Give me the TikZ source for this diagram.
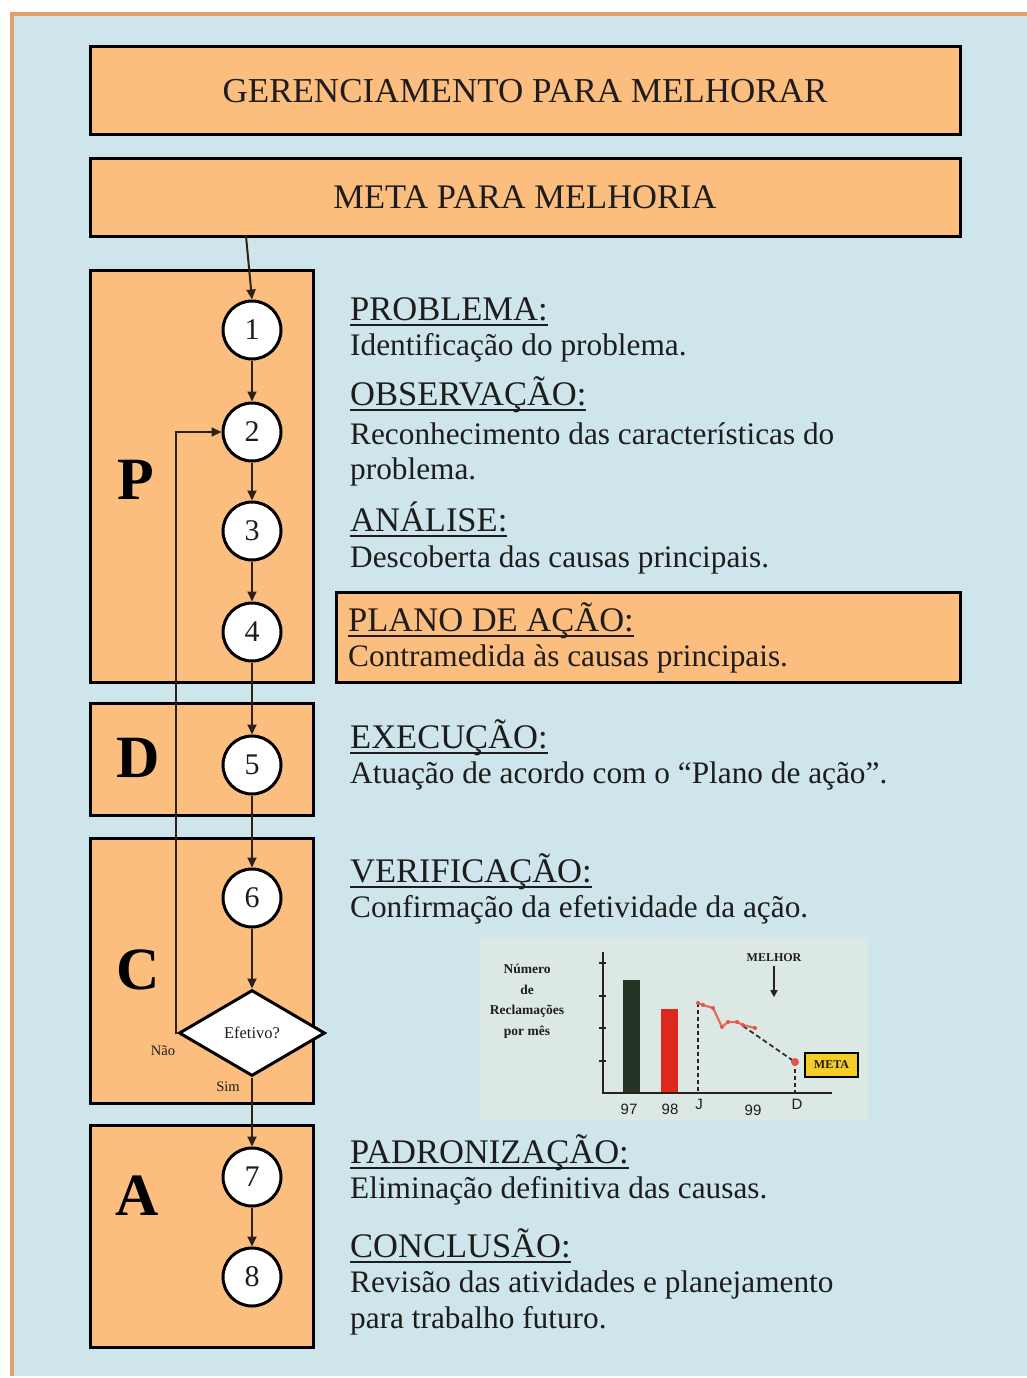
\documentclass[tikz,border=0pt]{standalone}
\usepackage{fontspec}
\setmainfont{Liberation Serif}
\newfontfamily\chartsans{Liberation Sans}
\usetikzlibrary{arrows.meta,shapes.geometric}
\definecolor{bgblue}{RGB}{205,229,235}
\definecolor{orfill}{RGB}{252,190,126}
\definecolor{frameor}{RGB}{224,160,112}
\definecolor{txt}{RGB}{30,28,28}
\definecolor{conn}{RGB}{45,32,25}
\definecolor{chartbg}{RGB}{220,232,228}
\definecolor{bargreen}{RGB}{38,52,38}
\definecolor{barred}{RGB}{222,40,30}
\definecolor{metay}{RGB}{245,205,40}
\newcommand\myul[1]{\setbox0\hbox{#1}\rlap{\rule[-6pt]{\wd0}{1.8pt}}\box0}
\begin{document}
\begin{tikzpicture}[x=1pt,y=-1pt,
  box/.style={draw=black, fill=orfill, line width=3pt, inner sep=0pt},
  stepc/.style={circle, draw=black, fill=white, line width=3pt, minimum size=58pt, inner sep=0pt, font=\fontsize{30}{30}\selectfont, text=txt},
  phase/.style={font=\bfseries\fontsize{60}{60}\selectfont, text=black},
  head/.style={anchor=base west, inner sep=0pt, font=\fontsize{34.5}{34.5}\selectfont, text=txt},
  body/.style={anchor=base west, inner sep=0pt, font=\fontsize{31.3}{31.3}\selectfont, text=txt},
  arr/.style={draw=conn, line width=2pt, -{Triangle[length=10pt,width=9pt]}},
  small/.style={inner sep=0pt, text=txt, font=\fontsize{14.5}{14.5}\selectfont},
  clab/.style={inner sep=0pt, text=txt, font=\chartsans\fontsize{15}{15}\selectfont}]
\useasboundingbox (0,0) rectangle (1027,1378);
\fill[white] (0,0) rectangle (1027,1378);
\fill[bgblue] (12,14) rectangle (1027,1376);
\draw[frameor, line width=4pt] (1030,14) -- (12,14) -- (12,1376);

% top boxes
\node[box, minimum width=870pt, minimum height=88pt, font=\fontsize{35}{35}\selectfont, text=txt] (title) at (525,91) {GERENCIAMENTO PARA MELHORAR};
\node[box, minimum width=870pt, minimum height=78pt, font=\fontsize{34.5}{34.5}\selectfont, text=txt] (meta) at (525,197) {META PARA MELHORIA};

% phase boxes
\node[box, minimum width=223pt, minimum height=412pt] (boxP) at (201.5,476) {};
\node[box, minimum width=223pt, minimum height=112pt] (boxD) at (201.5,759) {};
\node[box, minimum width=223pt, minimum height=265pt] (boxC) at (201.5,970.5) {};
\node[box, minimum width=223pt, minimum height=222pt] (boxA) at (201.5,1236) {};
\node[box, minimum width=624pt, minimum height=90pt] (plano) at (648,637) {};

\node[phase] (lP) at (136,480) {P};
\node[phase] (lD) at (138,758) {D};
\node[phase] (lC) at (138,970) {C};
\node[phase] (lA) at (137,1196) {A};

% step circles
\node[stepc] (c1) at (252,330) {1};
\node[stepc] (c2) at (252,432) {2};
\node[stepc] (c3) at (252,531) {3};
\node[stepc] (c4) at (252,632) {4};
\node[stepc] (c5) at (252,765) {5};
\node[stepc] (c6) at (252,898) {6};
\node[diamond, draw=black, fill=white, line width=3pt, minimum width=146pt, minimum height=86pt, inner sep=0pt, font=\fontsize{16.5}{16.5}\selectfont, text=txt] (dia) at (252,1033) {Efetivo?};
\node[stepc] (c7) at (252,1177) {7};
\node[stepc] (c8) at (252,1277) {8};

% connectors
\coordinate (m1) at (246,236);
\draw[arr] (m1) -- (c1.north);
\draw[arr] (c1) -- (c2);
\draw[arr] (c2) -- (c3);
\draw[arr] (c3) -- (c4);
\draw[arr] (c4) -- (c5);
\draw[arr] (c5) -- (c6);
\draw[arr] (c6) -- (dia);
\draw[arr] (dia) -- (c7);
\draw[arr] (c7) -- (c8);
\coordinate (fb) at (176,1033);
\draw[arr] (dia.west) -- (fb) |- (c2.west);
\node[small] (nao) at (163,1051) {Não};
\node[small] (sim) at (228,1087) {Sim};

% right texts
\node[head] (h1) at (350,320) {\myul{PROBLEMA:}};
\node[body] (b1) at (350,355) {Identificação do problema.};
\node[head] (h2) at (350,405) {\myul{OBSERVAÇÃO:}};
\node[body] (b2) at (350,444) {Reconhecimento das características do};
\node[body] (b2b) at (350,479) {problema.};
\node[head] (h3) at (350,531) {\myul{ANÁLISE:}};
\node[body] (b3) at (350,567) {Descoberta das causas principais.};
\node[head] (h4) at (348,631) {\myul{PLANO DE AÇÃO:}};
\node[body] (b4) at (348,666) {Contramedida às causas principais.};
\node[head] (h5) at (350,748) {\myul{EXECUÇÃO:}};
\node[body] (b5) at (350,783) {Atuação de acordo com o “Plano de ação”.};
\node[head] (h6) at (350,882) {\myul{VERIFICAÇÃO:}};
\node[body] (b6) at (350,917) {Confirmação da efetividade da ação.};
\node[head] (h7) at (350,1163) {\myul{PADRONIZAÇÃO:}};
\node[body] (b7) at (350,1198) {Eliminação definitiva das causas.};
\node[head] (h8) at (350,1257) {\myul{CONCLUSÃO:}};
\node[body] (b8) at (350,1292) {Revisão das atividades e planejamento};
\node[body] (b8b) at (350,1328) {para trabalho futuro.};

% chart
\fill[chartbg] (480,937) rectangle (868,1120);
\node[inner sep=0pt, align=center, text=txt, font=\bfseries\fontsize{13.5}{20.5}\selectfont] (ylab) at (527,1001) {Número\\de\\Reclamações\\por mês};
\coordinate (ax0) at (603,1093);
\coordinate (axT) at (603,952);
\coordinate (axR) at (832,1093);
\fill[bargreen] (623,980) rectangle (640,1093);
\fill[barred] (661,1009) rectangle (678,1093);
\draw[conn, line width=1.8pt] (axT) -- (ax0) -- (axR);
\foreach \ty in {963,996,1028,1061} \draw[conn, line width=1.3pt] (599,\ty) -- (606,\ty);
\draw[conn, line width=1.4pt, dash pattern=on 4pt off 3pt] (698,1003) -- (698,1093);
\draw[conn, line width=1.4pt, dash pattern=on 4pt off 3pt] (795,1062) -- (795,1093);
\draw[black!80, line width=1.8pt, dash pattern=on 5pt off 3pt] (743,1026) -- (795,1062);
\draw[barred!70, line width=2.2pt] (698,1003) -- (703,1005) -- (713,1008) -- (722,1027) -- (728,1022) -- (737,1022) -- (743,1025) -- (755,1028);
\foreach \px/\py in {698/1003,703/1005,713/1008,722/1027,728/1022,737/1022,743/1025,755/1028} \fill[barred!80] (\px,\py) circle (2pt);
\fill[barred!80] (795,1062) circle (4pt);
\node[inner sep=0pt, text=txt, font=\bfseries\fontsize{12}{12}\selectfont] (melhor) at (774,958) {MELHOR};
\draw[conn, line width=1.5pt, -{Triangle[length=7pt,width=7pt]}] (melhor.south) ++(0,4) -- ++(0,31);
\node[draw=black, line width=1.5pt, fill=metay, minimum width=53pt, minimum height=24pt, inner sep=0pt, text=txt, font=\bfseries\fontsize{12}{12}\selectfont] (metabox) at (831.5,1065) {META};
\node[clab] (l97) at (629,1109) {97};
\node[clab] (l98) at (670,1109) {98};
\node[clab] (lJ) at (699,1104) {J};
\node[clab] (l99) at (753,1110) {99};
\node[clab] (lD2) at (797,1104) {D};
\end{tikzpicture}
\end{document}
